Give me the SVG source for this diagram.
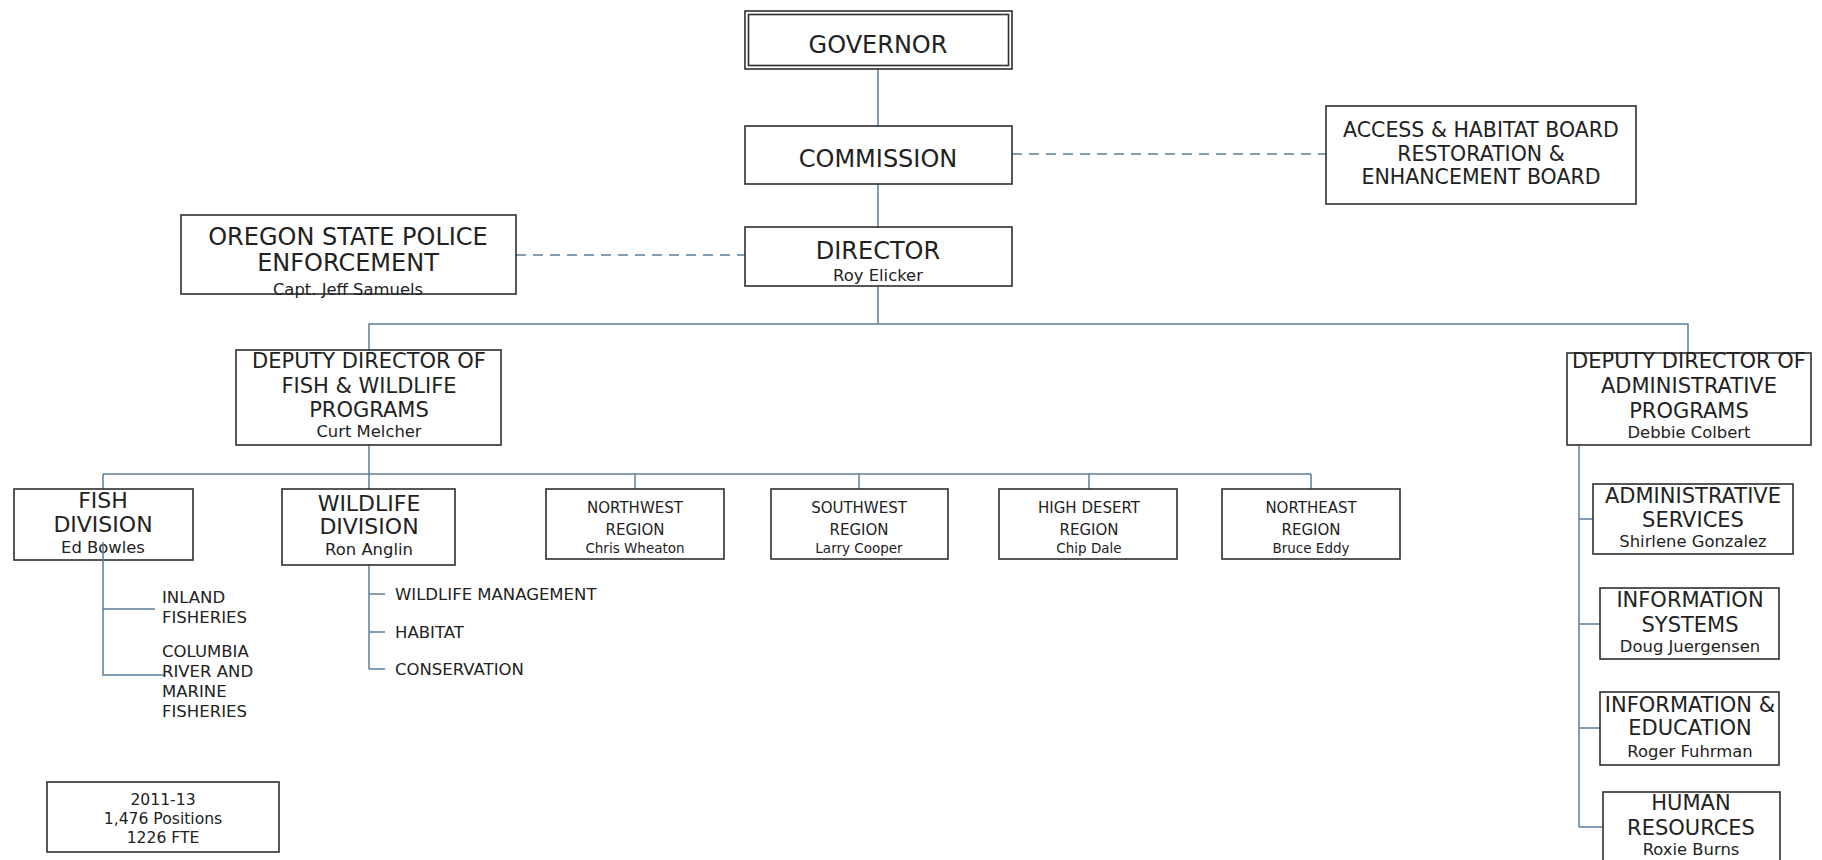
<svg xmlns="http://www.w3.org/2000/svg" width="1822" height="860" viewBox="0 0 1822 860">
<style>
.box{fill:#fff;stroke:#2e2e2e;stroke-width:1.6}
.t{font-family:"DejaVu Sans",Verdana,sans-serif;fill:#222;text-anchor:middle}
.l{font-family:"DejaVu Sans",Verdana,sans-serif;fill:#222}
.big{font-size:24px}
.mid{font-size:21px}
.nm{font-size:16.4px}
.rg{font-size:15px}
.rn{font-size:13.5px}
.sub{font-size:16.5px}
.c{fill:none;stroke:#5b7d99;stroke-width:1.5}
.d{fill:none;stroke:#5b7d99;stroke-width:1.5;stroke-dasharray:10 7}
</style>
<rect width="1822" height="860" fill="#fff"/>
<g id="connectors">
<line class="c" x1="878" y1="69" x2="878" y2="126"/>
<line class="c" x1="878" y1="184" x2="878" y2="227"/>
<line class="c" x1="878" y1="286" x2="878" y2="324"/>
<line class="d" x1="1012" y1="154" x2="1326" y2="154"/>
<line class="d" x1="516" y1="255" x2="745" y2="255"/>
<polyline class="c" points="369,350 369,324 1688,324 1688,353"/>
<line class="c" x1="369" y1="445" x2="369" y2="489"/>
<line class="c" x1="103" y1="474" x2="1311" y2="474"/>
<line class="c" x1="103" y1="474" x2="103" y2="489"/>
<line class="c" x1="635" y1="474" x2="635" y2="489"/>
<line class="c" x1="859" y1="474" x2="859" y2="489"/>
<line class="c" x1="1089" y1="474" x2="1089" y2="489"/>
<line class="c" x1="1311" y1="474" x2="1311" y2="489"/>
<line class="c" x1="369" y1="565" x2="369" y2="669"/>
<line class="c" x1="369" y1="594" x2="385" y2="594"/>
<line class="c" x1="369" y1="632" x2="385" y2="632"/>
<line class="c" x1="369" y1="669" x2="385" y2="669"/>
<line class="c" x1="1579" y1="445" x2="1579" y2="827"/>
<line class="c" x1="1579" y1="519" x2="1593" y2="519"/>
<line class="c" x1="1579" y1="624" x2="1600" y2="624"/>
<line class="c" x1="1579" y1="728" x2="1600" y2="728"/>
<line class="c" x1="1579" y1="827" x2="1603" y2="827"/>
</g>
<g id="governor">
<rect class="box" x="745" y="11" width="267" height="58"/>
<rect class="box" x="748.5" y="14.5" width="260" height="51"/>
<text class="t big" x="878" y="53">GOVERNOR</text>
</g>
<g id="commission">
<rect class="box" x="745" y="126" width="267" height="58"/>
<text class="t big" x="878" y="167">COMMISSION</text>
</g>
<g id="boards">
<rect class="box" x="1326" y="106" width="310" height="98"/>
<text class="t" style="font-size:20.5px" x="1481" y="137">ACCESS &amp; HABITAT BOARD</text>
<text class="t" style="font-size:20.5px" x="1481" y="161">RESTORATION &amp;</text>
<text class="t" style="font-size:20.5px" x="1481" y="184">ENHANCEMENT BOARD</text>
</g>
<g id="director">
<rect class="box" x="745" y="227" width="267" height="59"/>
<text class="t big" x="878" y="259">DIRECTOR</text>
<text class="t nm" x="878" y="281">Roy Elicker</text>
</g>
<g id="police">
<rect class="box" x="181" y="215" width="335" height="79"/>
<text class="t big" x="348" y="245">OREGON STATE POLICE</text>
<text class="t big" x="348" y="271">ENFORCEMENT</text>
<text class="t nm" x="348" y="295">Capt. Jeff Samuels</text>
</g>
<g id="deputy-fw">
<rect class="box" x="236" y="350" width="265" height="95"/>
<text class="t mid" x="369" y="368">DEPUTY DIRECTOR OF</text>
<text class="t mid" x="369" y="393">FISH &amp; WILDLIFE</text>
<text class="t mid" x="369" y="417">PROGRAMS</text>
<text class="t nm" x="369" y="437">Curt Melcher</text>
</g>
<g id="deputy-admin">
<rect class="box" x="1567" y="353" width="244" height="92"/>
<text class="t mid" x="1689" y="368">DEPUTY DIRECTOR OF</text>
<text class="t mid" x="1689" y="393">ADMINISTRATIVE</text>
<text class="t mid" x="1689" y="418">PROGRAMS</text>
<text class="t nm" x="1689" y="438">Debbie Colbert</text>
</g>
<g id="fish">
<rect class="box" x="14" y="489" width="179" height="71"/>
<text class="t" style="font-size:22px" x="103" y="508">FISH</text>
<text class="t" style="font-size:22px" x="103" y="532">DIVISION</text>
<text class="t nm" x="103" y="553">Ed Bowles</text>
<polyline class="c" points="103,542 103,675 165,675"/>
<line class="c" x1="103" y1="609" x2="155" y2="609"/>
</g>
<g id="fish-subs">
<text class="l sub" x="162" y="603">INLAND</text>
<text class="l sub" x="162" y="623">FISHERIES</text>
<text class="l sub" x="162" y="657">COLUMBIA</text>
<text class="l sub" x="162" y="677">RIVER AND</text>
<text class="l sub" x="162" y="697">MARINE</text>
<text class="l sub" x="162" y="717">FISHERIES</text>
</g>
<g id="wildlife">
<rect class="box" x="282" y="489" width="173" height="76"/>
<text class="t" style="font-size:22px" x="369" y="511">WILDLIFE</text>
<text class="t" style="font-size:22px" x="369" y="534">DIVISION</text>
<text class="t nm" x="369" y="555">Ron Anglin</text>
</g>
<g id="wildlife-subs">
<text class="l sub" x="395" y="600">WILDLIFE MANAGEMENT</text>
<text class="l sub" x="395" y="638">HABITAT</text>
<text class="l sub" x="395" y="675">CONSERVATION</text>
</g>
<g id="northwest">
<rect class="box" x="546" y="489" width="178" height="70"/>
<text class="t rg" x="635" y="513">NORTHWEST</text>
<text class="t rg" x="635" y="535">REGION</text>
<text class="t rn" x="635" y="553">Chris Wheaton</text>
</g>
<g id="southwest">
<rect class="box" x="771" y="489" width="177" height="70"/>
<text class="t rg" x="859" y="513">SOUTHWEST</text>
<text class="t rg" x="859" y="535">REGION</text>
<text class="t rn" x="859" y="553">Larry Cooper</text>
</g>
<g id="highdesert">
<rect class="box" x="999" y="489" width="178" height="70"/>
<text class="t rg" x="1089" y="513">HIGH DESERT</text>
<text class="t rg" x="1089" y="535">REGION</text>
<text class="t rn" x="1089" y="553">Chip Dale</text>
</g>
<g id="northeast">
<rect class="box" x="1222" y="489" width="178" height="70"/>
<text class="t rg" x="1311" y="513">NORTHEAST</text>
<text class="t rg" x="1311" y="535">REGION</text>
<text class="t rn" x="1311" y="553">Bruce Eddy</text>
</g>
<g id="admin-services">
<rect class="box" x="1593" y="484" width="200" height="70"/>
<text class="t mid" x="1693" y="503">ADMINISTRATIVE</text>
<text class="t mid" x="1693" y="527">SERVICES</text>
<text class="t nm" x="1693" y="547">Shirlene Gonzalez</text>
</g>
<g id="info-systems">
<rect class="box" x="1600" y="588" width="179" height="71"/>
<text class="t mid" x="1690" y="607">INFORMATION</text>
<text class="t mid" x="1690" y="632">SYSTEMS</text>
<text class="t nm" x="1690" y="652">Doug Juergensen</text>
</g>
<g id="info-education">
<rect class="box" x="1600" y="692" width="179" height="73"/>
<text class="t mid" x="1690" y="712">INFORMATION &amp;</text>
<text class="t mid" x="1690" y="735">EDUCATION</text>
<text class="t nm" x="1690" y="757">Roger Fuhrman</text>
</g>
<g id="human-resources">
<rect class="box" x="1603" y="792" width="177" height="80"/>
<text class="t mid" x="1691" y="810">HUMAN</text>
<text class="t mid" x="1691" y="835">RESOURCES</text>
<text class="t nm" x="1691" y="855">Roxie Burns</text>
</g>
<g id="stats">
<rect class="box" x="47" y="782" width="232" height="70"/>
<text class="t" style="font-size:15.6px" x="163" y="805">2011-13</text>
<text class="t" style="font-size:15.6px" x="163" y="824">1,476 Positions</text>
<text class="t" style="font-size:15.6px" x="163" y="843">1226 FTE</text>
</g>
</svg>
